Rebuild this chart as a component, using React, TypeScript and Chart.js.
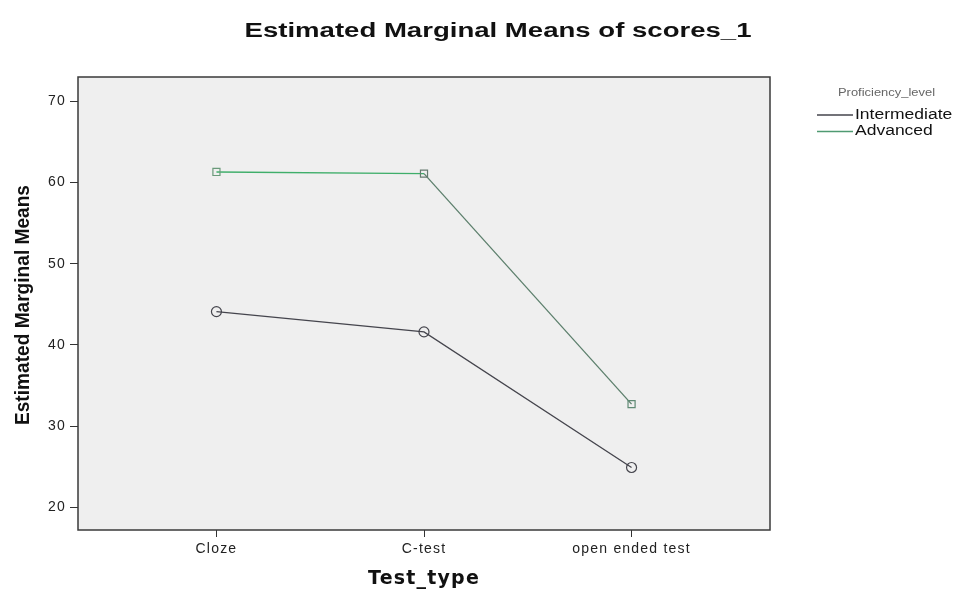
import React, { useEffect, useRef } from "react";
import { Chart, registerables } from "chart.js";

Chart.register(...registerables);

const chartTitle = "Estimated Marginal Means of scores_1";
const categories = ["Cloze", "C-test", "open ended test"];
const intermediate = [44.1, 41.6, 24.9];
const advanced = [61.3, 61.1, 32.7];
const seriesNames = ["Intermediate", "Advanced"];
const legendTitle = "Proficiency_level";
const yTicks = [20, 30, 40, 50, 60, 70];
const xTitle = "Test_type";
const yTitle = "Estimated Marginal Means";

const colInter = "#45454d";
const colAdv = "#3fae6a";
const FONT = "'Liberation Sans', Arial, sans-serif";

function stretchText(ctx: any, text: string, x: number, y: number, width: number, font: string, color: string, align: "left" | "center") {
  ctx.save();
  ctx.font = font;
  ctx.fillStyle = color;
  ctx.textBaseline = "middle";
  ctx.textAlign = "left";
  const w = ctx.measureText(text).width;
  const sx = width / w;
  const x0 = align === "center" ? x - width / 2 : x;
  ctx.translate(x0, y);
  ctx.scale(sx, 1);
  ctx.fillText(text, 0, 0);
  ctx.restore();
}

const decor = {
  id: "decor",
  beforeDraw(chart: any) {
    (chart.ctx as any).letterSpacing = "1.2px";
  },
  beforeDatasetsDraw(chart: any) {
    const { ctx, chartArea: a } = chart;
    ctx.save();
    ctx.fillStyle = "#efefef";
    ctx.fillRect(a.left, a.top, a.right - a.left, a.bottom - a.top);
    ctx.restore();
  },
  afterDraw(chart: any) {
    const { ctx, chartArea: a } = chart;
    ctx.save();
    (ctx as any).letterSpacing = "0px";
    ctx.strokeStyle = "#3a3a3a";
    ctx.lineWidth = 1.5;
    ctx.strokeRect(a.left, a.top, a.right - a.left, a.bottom - a.top);
    // title
    stretchText(ctx, chartTitle, 498, 31, 507, `bold 20px ${FONT}`, "#111", "center");
    // y title (rotated, narrow)
    ctx.save();
    ctx.translate(23, 305);
    ctx.rotate(-Math.PI / 2);
    stretchText(ctx, yTitle, 0, 0, 240, `bold 21px ${FONT}`, "#111", "center");
    ctx.restore();
    // legend
    stretchText(ctx, legendTitle, 838, 93, 97, `10px ${FONT}`, "#666", "left");
    const cols = [colInter, "#4f9a72"];
    seriesNames.forEach((n, i) => {
      const y = 115 + i * 16.5;
      ctx.strokeStyle = cols[i];
      ctx.lineWidth = 1.3;
      ctx.beginPath();
      ctx.moveTo(817, y);
      ctx.lineTo(853, y);
      ctx.stroke();
      ctx.font = `14px ${FONT}`;
      const w = ctx.measureText(n).width;
      stretchText(ctx, n, 855, y, w * 1.25, `14px ${FONT}`, "#111", "left");
    });
    ctx.restore();
  },
};

export default function App() {
  const ref = useRef<HTMLCanvasElement>(null);
  useEffect(() => {
    if (!ref.current) return;
    const chart = new Chart(ref.current, {
      type: "line",
      data: {
        datasets: [
          {
            label: seriesNames[0],
            data: intermediate.map((v, i) => ({ x: i, y: v })),
            borderColor: colInter,
            backgroundColor: "transparent",
            borderWidth: 1.3,
            pointStyle: "circle",
            pointRadius: 5,
            pointBorderWidth: 1.2,
            pointBorderColor: colInter,
            pointBackgroundColor: "transparent",
          },
          {
            label: seriesNames[1],
            data: advanced.map((v, i) => ({ x: i, y: v })),
            borderColor: colAdv,
            backgroundColor: "transparent",
            borderWidth: 1.3,
            pointStyle: "rect",
            pointRadius: 5,
            pointBorderWidth: 1.2,
            pointBorderColor: ["#6a9a7a", "#667a70", "#5f8a74"],
            pointBackgroundColor: "transparent",
            segment: {
              borderColor: (c: any) => (c.p0DataIndex === 1 ? "#5c7f6c" : colAdv),
            },
          },
        ],
      },
      options: {
        animation: false,
        responsive: false,
        maintainAspectRatio: false,
        layout: { padding: { left: 0, top: 77, right: 184, bottom: 0 } },
        plugins: {
          legend: { display: false },
          title: { display: false },
          tooltip: { enabled: false },
        },
        scales: {
          x: {
            type: "linear",
            min: -0.667,
            max: 2.667,
            afterBuildTicks: (s: any) => {
              s.ticks = categories.map((_, i) => ({ value: i }));
            },
            afterFit: (s: any) => {
              s.height = 60;
            },
            grid: {
              drawOnChartArea: false,
              drawTicks: true,
              tickLength: 7,
              color: "#333",
            },
            border: { display: false },
            ticks: {
              callback: (v: any) => categories[v as number] ?? "",
              color: "#222",
              font: { family: FONT, size: 14 },
              padding: 4,
              maxRotation: 0,
            },
            title: {
              display: true,
              text: xTitle,
              color: "#111",
              font: { family: "'DejaVu Sans', sans-serif", size: 19, weight: "bold" },
              padding: { top: 2, bottom: 0 },
            },
          },
          y: {
            min: 17.2,
            max: 73,
            afterBuildTicks: (s: any) => {
              s.ticks = yTicks.map((v) => ({ value: v }));
            },
            afterFit: (s: any) => {
              s.width = 78;
            },
            grid: {
              drawOnChartArea: false,
              drawTicks: true,
              tickLength: 8,
              color: "#333",
            },
            border: { display: false },
            ticks: {
              color: "#222",
              font: { family: FONT, size: 14 },
              padding: 4,
            },
            title: { display: false },
          },
        },
      },
      plugins: [decor],
    });
    return () => chart.destroy();
  }, []);
  return (
    <div style={{ position: "fixed", left: 0, top: 0, width: 954, height: 590, background: "#fff" }}>
      <canvas ref={ref} width={954} height={590} style={{ width: 954, height: 590 }} />
    </div>
  );
}
